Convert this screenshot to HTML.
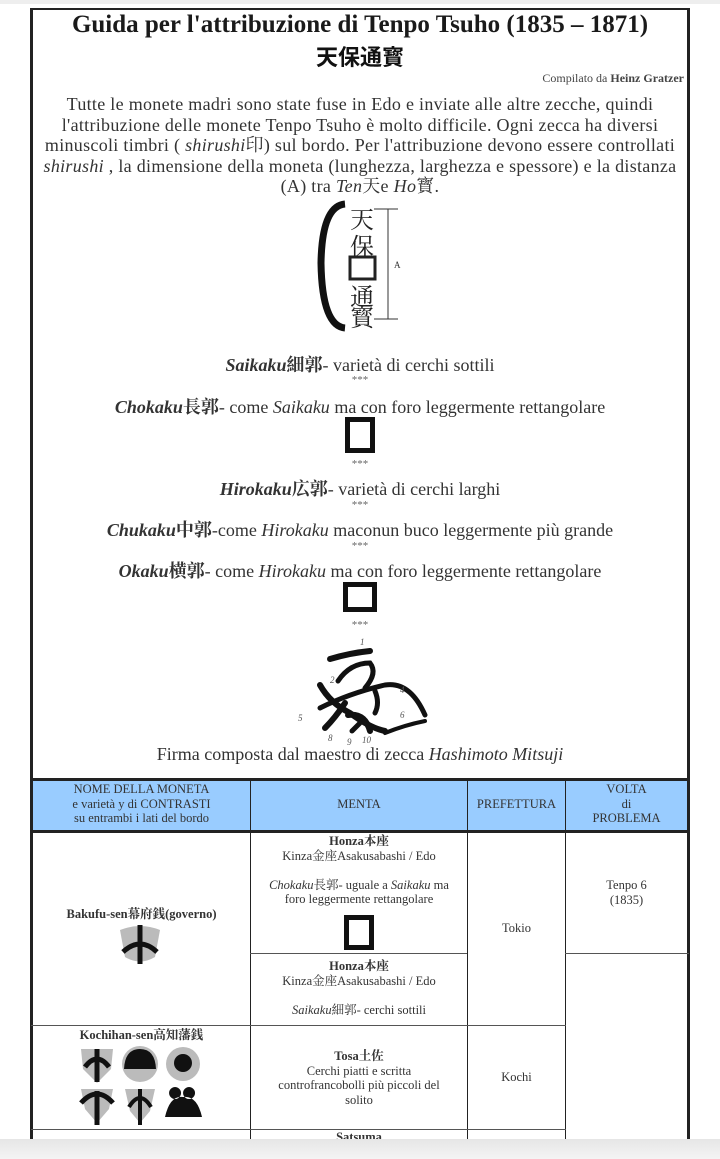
<!DOCTYPE html>
<html><head><meta charset="utf-8">
<style>
*{margin:0;padding:0;box-sizing:border-box}
body{width:720px;height:1159px;background:#fff;position:relative;overflow:hidden;font-family:"Liberation Serif","Noto Serif CJK SC",serif;color:#222}
.c{position:absolute;left:31px;width:658px;text-align:center;white-space:nowrap}
.t{font-size:18px;color:#333}
.st{font-size:11px;color:#666;line-height:11px}
.tb{position:absolute;font-size:12.5px;color:#333;text-align:center;line-height:14.5px}
.ln{position:absolute;background:#222}
</style></head><body>
<div style="position:absolute;left:0;top:0;width:720px;height:4px;background:#eee"></div>
<div class="ln" style="left:30px;top:8px;width:3px;height:1132px"></div>
<div class="ln" style="left:687px;top:8px;width:3px;height:1132px"></div>
<div class="ln" style="left:30px;top:8px;width:660px;height:2px"></div>

<div class="c" style="top:11px;font-size:25px;font-weight:bold;color:#1a1a1a">Guida per l'attribuzione di Tenpo Tsuho (1835 – 1871)</div>
<div class="c" style="top:40px;font-size:22px;font-weight:bold;font-family:'Noto Sans CJK JP',sans-serif;color:#111">天保通寳</div>
<div style="position:absolute;right:36px;top:71px;font-size:12px;color:#444">Compilato da <b>Heinz Gratzer</b></div>
<div class="c t" style="top:94px;line-height:20.5px;letter-spacing:0.3px">Tutte le monete madri sono state fuse in Edo e inviate alle altre zecche, quindi<br>l'attribuzione delle monete Tenpo Tsuho è molto difficile. Ogni zecca ha diversi<br>minuscoli timbri ( <i>shirushi</i>印) sul bordo. Per l'attribuzione devono essere controllati<br><i>shirushi</i> , la dimensione della moneta (lunghezza, larghezza e spessore) e la distanza<br>(A) tra <i>Ten</i>天e <i>Ho</i>寳.</div>

<svg style="position:absolute;left:310px;top:198px" width="100" height="140">
<path d="M35 6 Q12 8 11 65 Q12 128 35 130" stroke="#111" stroke-width="7" fill="none"/>
<text x="52" y="30" font-size="24" font-family="Noto Serif CJK JP,serif" text-anchor="middle" fill="#222">天</text>
<text x="52" y="57" font-size="24" font-family="Noto Serif CJK JP,serif" text-anchor="middle" fill="#222">保</text>
<rect x="40" y="59" width="25" height="22" stroke="#222" stroke-width="3" fill="none"/>
<text x="52" y="107" font-size="24" font-family="Noto Serif CJK JP,serif" text-anchor="middle" fill="#222">通</text>
<text x="52" y="128" font-size="24" font-family="Noto Serif CJK JP,serif" text-anchor="middle" fill="#222">寳</text>
<line x1="78" y1="11" x2="78" y2="121" stroke="#333" stroke-width="1"/>
<line x1="64" y1="11" x2="88" y2="11" stroke="#333"/><line x1="64" y1="121" x2="88" y2="121" stroke="#333"/>
<text x="84" y="70" font-size="9" fill="#333">A</text>
</svg>

<div class="c t" style="top:351px"><b><i>Saikaku</i>細郭</b>- varietà di cerchi sottili</div>
<div class="c st" style="top:375px">***</div>
<div class="c t" style="top:393px"><b><i>Chokaku</i>長郭</b>- come <i>Saikaku</i> ma con foro leggermente rettangolare</div>
<div style="position:absolute;left:345px;top:417px;width:30px;height:36px;border:5px solid #111"></div>
<div class="c st" style="top:459px">***</div>
<div class="c t" style="top:475px"><b><i>Hirokaku</i>広郭</b>- varietà di cerchi larghi</div>
<div class="c st" style="top:500px">***</div>
<div class="c t" style="top:516px"><b><i>Chukaku</i>中郭</b>-come <i>Hirokaku</i> maconun buco leggermente più grande</div>
<div class="c st" style="top:541px">***</div>
<div class="c t" style="top:557px"><b><i>Okaku</i>横郭</b>- come <i>Hirokaku</i> ma con foro leggermente rettangolare</div>
<div style="position:absolute;left:343px;top:582px;width:34px;height:30px;border:5px solid #111"></div>
<div class="c st" style="top:620px">***</div>

<svg style="position:absolute;left:290px;top:633px" width="140" height="115" fill="none" stroke="#111" stroke-linecap="round">
<path d="M40 26 Q60 20 80 18" stroke-width="6"/>
<path d="M48 48 Q60 30 80 30 Q88 40 75 55" stroke-width="5"/>
<path d="M30 52 Q40 70 60 80 Q80 95 95 98" stroke-width="6"/>
<path d="M30 75 Q60 60 95 52 Q120 48 135 82" stroke-width="5"/>
<path d="M85 58 Q90 70 85 80" stroke-width="5"/>
<path d="M55 70 Q45 85 35 95" stroke-width="6"/>
<path d="M58 82 Q75 80 80 98" stroke-width="6"/>
<path d="M95 100 Q115 92 135 88" stroke-width="4"/>
<path d="M70 90 Q65 95 62 98" stroke-width="5"/>
<text x="70" y="12" font-size="9" fill="#555" stroke="none" font-style="italic">1</text>
<text x="40" y="50" font-size="9" fill="#555" stroke="none" font-style="italic">2</text>
<text x="110" y="60" font-size="9" fill="#555" stroke="none" font-style="italic">4</text>
<text x="110" y="85" font-size="9" fill="#555" stroke="none" font-style="italic">6</text>
<text x="8" y="88" font-size="9" fill="#555" stroke="none" font-style="italic">5</text>
<text x="38" y="108" font-size="9" fill="#555" stroke="none" font-style="italic">8</text>
<text x="57" y="112" font-size="9" fill="#555" stroke="none" font-style="italic">9</text>
<text x="72" y="110" font-size="9" fill="#555" stroke="none" font-style="italic">10</text>
</svg>
<div class="c t" style="top:744px">Firma composta dal maestro di zecca <i>Hashimoto Mitsuji</i></div>

<!-- table -->
<div class="ln" style="left:30px;top:778px;width:660px;height:3px"></div>
<div style="position:absolute;left:33px;top:781px;width:654px;height:49px;background:#99ccff"></div>
<div class="ln" style="left:30px;top:830px;width:660px;height:3px"></div>
<div class="ln" style="left:250px;top:781px;width:1px;height:360px"></div>
<div class="ln" style="left:467px;top:781px;width:1px;height:360px"></div>
<div class="ln" style="left:565px;top:781px;width:1px;height:360px"></div>
<div class="ln" style="left:250px;top:953px;width:217px;height:1px;background:#555"></div>
<div class="ln" style="left:565px;top:953px;width:124px;height:1px;background:#555"></div>
<div class="ln" style="left:31px;top:1025px;width:535px;height:1px;background:#555"></div>
<div class="ln" style="left:31px;top:1129px;width:535px;height:1px;background:#555"></div>

<div class="tb" style="left:33px;top:782px;width:217px">NOME DELLA MONETA<br>e varietà y di CONTRASTI<br>su entrambi i lati del bordo</div>
<div class="tb" style="left:251px;top:797px;width:216px">MENTA</div>
<div class="tb" style="left:468px;top:797px;width:97px">PREFETTURA</div>
<div class="tb" style="left:566px;top:782px;width:121px">VOLTA<br>di<br>PROBLEMA</div>

<div class="tb" style="left:33px;top:907px;width:217px;font-weight:bold">Bakufu-sen幕府銭(governo)</div>
<svg style="position:absolute;left:115px;top:922px" width="50" height="45">
<path d="M5 8 Q25 0 45 8 L40 35 Q25 44 10 35Z" fill="#bbb"/>
<path d="M25 3 V42 M8 30 Q25 14 42 30" stroke="#111" stroke-width="5" fill="none"/>
</svg>
<div class="tb" style="left:251px;top:834px;width:216px"><b>Honza本座</b><br>Kinza金座Asakusabashi / Edo<br><br><i>Chokaku</i>長郭- uguale a <i>Saikaku</i> ma<br>foro leggermente rettangolare</div>
<div style="position:absolute;left:344px;top:915px;width:30px;height:35px;border:5px solid #111"></div>
<div class="tb" style="left:251px;top:959px;width:216px"><b>Honza本座</b><br>Kinza金座Asakusabashi / Edo<br><br><i>Saikaku</i>細郭- cerchi sottili</div>
<div class="tb" style="left:468px;top:921px;width:97px">Tokio</div>
<div class="tb" style="left:566px;top:878px;width:121px">Tenpo 6<br>(1835)</div>

<div class="tb" style="left:33px;top:1028px;width:217px;font-weight:bold">Kochihan-sen高知藩銭</div>
<svg style="position:absolute;left:75px;top:1045px" width="140" height="82">
<g fill="#bbb"><path d="M6 4 L38 4 L36 24 L22 38 L8 24Z"/><circle cx="65" cy="19" r="18"/><circle cx="108" cy="19" r="17"/>
<path d="M6 44 L38 44 L34 64 L22 78 L10 64Z"/><path d="M50 44 L80 44 L75 66 L65 78 L55 66Z"/></g>
<path d="M22 4 V37 M10 22 Q22 6 34 22" stroke="#111" stroke-width="5" fill="none"/>
<path d="M49 24 Q50 4 65 4 Q80 4 81 24Z" fill="#111"/>
<circle cx="108" cy="18" r="9" fill="#111"/>
<path d="M22 46 V80 M6 58 Q22 40 38 58" stroke="#111" stroke-width="5" fill="none"/>
<path d="M65 44 V80 M54 62 Q65 44 76 62" stroke="#111" stroke-width="4" fill="none"/>
<path d="M90 72 Q95 50 108 52 Q122 50 127 72 Z M100 42 a6 6 0 1 0 0.1 0 M114 42 a6 6 0 1 0 0.1 0" fill="#111"/>
</svg>
<div class="tb" style="left:251px;top:1049px;width:216px"><b>Tosa土佐</b><br>Cerchi piatti e scritta<br>controfrancobolli più piccoli del<br>solito</div>
<div class="tb" style="left:468px;top:1070px;width:97px">Kochi</div>
<div class="tb" style="left:251px;top:1130px;width:216px;font-weight:bold">Satsuma</div>

<div style="position:absolute;left:0;top:1139px;width:720px;height:20px;background:linear-gradient(#e6e6e6,#f4f4f4)"></div>
</body></html>
